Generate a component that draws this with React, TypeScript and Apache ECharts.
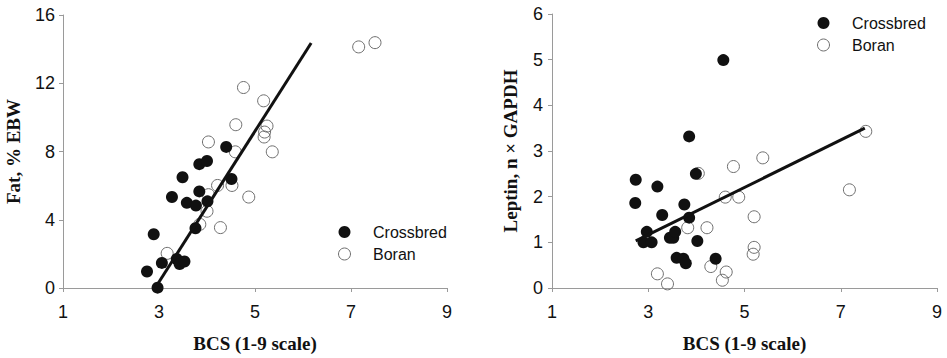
import React, { useEffect, useRef } from "react";
import * as echarts from "echarts";

// BCS vs Fat (% EBW)
const fatCrossX = [2.75, 2.89, 2.97, 3.06, 3.27, 3.37, 3.43, 3.53, 3.49, 3.58, 3.77, 3.76, 3.84, 3.84, 4.0, 4.01, 4.4, 4.51];
const fatCrossY = [0.97, 3.15, 0.02, 1.47, 5.33, 1.7, 1.41, 1.55, 6.49, 4.99, 4.83, 3.5, 5.66, 7.26, 7.44, 5.08, 8.27, 6.39];
const fatBoranX = [3.17, 3.85, 4.0, 4.03, 4.03, 4.22, 4.28, 4.52, 4.59, 4.6, 4.76, 4.87, 5.18, 5.2, 5.19, 5.25, 5.36, 7.16, 7.5];
const fatBoranY = [2.03, 3.73, 4.5, 5.47, 8.56, 6.01, 3.54, 6.01, 7.98, 9.57, 11.75, 5.33, 10.97, 9.14, 8.85, 9.49, 7.98, 14.13, 14.38];
const fatLineX = [2.92, 6.17];
const fatLineY = [0, 14.36];

// BCS vs Leptin
const lepCrossX = [2.74, 2.73, 2.97, 2.9, 3.07, 3.19, 3.29, 3.45, 3.52, 3.56, 3.59, 3.73, 3.78, 3.75, 3.85, 3.85, 3.99, 4.02, 4.4, 4.56];
const lepCrossY = [2.37, 1.86, 1.23, 1.0, 1.0, 2.22, 1.6, 1.1, 1.1, 1.23, 0.66, 0.64, 0.54, 1.83, 1.54, 3.32, 2.5, 1.03, 0.64, 4.99];
const lepBoranX = [3.19, 3.4, 3.82, 4.04, 4.22, 4.3, 4.54, 4.62, 4.6, 4.77, 4.88, 5.2, 5.2, 5.18, 5.38, 7.18, 7.52];
const lepBoranY = [0.31, 0.09, 1.32, 2.51, 1.32, 0.47, 0.17, 0.35, 1.99, 2.66, 1.99, 1.56, 0.89, 0.74, 2.85, 2.15, 3.43];
const lepLineX = [2.74, 7.5];
const lepLineY = [1.03, 3.5];

const xTicks = [1, 3, 5, 7, 9];
const legendNames = ["Crossbred", "Boran"];

const zip = (xs: number[], ys: number[]) => xs.map((x, i) => [x, ys[i]]);

const SANS = "'Liberation Sans', Arial, sans-serif";
const SERIF = "'Liberation Serif', 'Times New Roman', serif";

export default function App() {
  const ref = useRef<HTMLDivElement>(null);
  useEffect(() => {
    if (!ref.current) return;
    const chart = echarts.init(ref.current, undefined, { renderer: "svg" });
    const axisLine = { show: true, lineStyle: { color: "#9a9a9a", width: 1 } };
    const axisTick = { show: true, length: 4, inside: false, lineStyle: { color: "#9a9a9a" } };
    const label = { color: "#111", fontSize: 18, fontFamily: SANS };
    const nameStyle = { color: "#111", fontSize: 19, fontWeight: "bold" as const, fontFamily: SERIF };
    const xAxisBase = (gridIndex: number) => ({
      type: "value" as const,
      gridIndex,
      min: xTicks[0],
      max: xTicks[xTicks.length - 1],
      interval: 2,
      splitLine: { show: false },
      axisLine,
      axisTick,
      axisLabel: { ...label, margin: 15 },
      name: "BCS (1-9 scale)",
      nameLocation: "middle" as const,
      nameGap: 46,
      nameTextStyle: nameStyle,
    });
    const crossStyle = { color: "#111", borderColor: "#111", borderWidth: 0, opacity: 1 };
    const boranStyle = { color: "rgba(255,255,255,0)", borderColor: "#6e6e6e", borderWidth: 1, opacity: 1 };
    const legendData = legendNames.map((n) => ({ name: n, itemStyle: { borderWidth: n === "Boran" ? 1 : 0 } }));
    const legendBase = {
      data: legendData, orient: "vertical" as const,
      itemWidth: 47, itemHeight: 12, itemGap: 6, symbolKeepAspect: true,
      textStyle: { color: "#111", fontSize: 16, fontFamily: SANS },
      selectedMode: false,
    };
    chart.setOption({
      animation: false,
      grid: [
        { left: 63, right: 500, top: 15, bottom: 67 },
        { left: 552, right: 10, top: 14, bottom: 67 },
      ],
      xAxis: [xAxisBase(0), xAxisBase(1)],
      yAxis: [
        {
          type: "value", gridIndex: 0, min: 0, max: 16, interval: 4,
          splitLine: { show: false }, axisLine, axisTick,
          axisLabel: { ...label, margin: 8 },
          name: "Fat, % EBW", nameLocation: "middle", nameGap: 40, nameRotate: 90,
          nameTextStyle: nameStyle,
        },
        {
          type: "value", gridIndex: 1, min: 0, max: 6, interval: 1,
          splitLine: { show: false }, axisLine, axisTick,
          axisLabel: { ...label, margin: 9 },
          name: "Leptin, n × GAPDH", nameLocation: "middle", nameGap: 32, nameRotate: 90,
          nameTextStyle: nameStyle,
        },
      ],
      legend: [
        { ...legendBase, left: 333, top: 219 },
        { ...legendBase, left: 812, top: 10 },
      ],
      series: [
        { name: "Boran", type: "scatter", xAxisIndex: 0, yAxisIndex: 0, symbol: "circle", symbolSize: 12, itemStyle: boranStyle, data: zip(fatBoranX, fatBoranY), z: 2 },
        { name: "Crossbred", type: "scatter", xAxisIndex: 0, yAxisIndex: 0, symbol: "circle", symbolSize: 12, itemStyle: crossStyle, data: zip(fatCrossX, fatCrossY), z: 3 },
        { name: "fatFit", type: "line", xAxisIndex: 0, yAxisIndex: 0, showSymbol: false, symbol: "none", lineStyle: { color: "#111", width: 3 }, data: zip(fatLineX, fatLineY), z: 4, silent: true },
        { name: "Boran", type: "scatter", xAxisIndex: 1, yAxisIndex: 1, symbol: "circle", symbolSize: 12, itemStyle: boranStyle, data: zip(lepBoranX, lepBoranY), z: 2 },
        { name: "Crossbred", type: "scatter", xAxisIndex: 1, yAxisIndex: 1, symbol: "circle", symbolSize: 12, itemStyle: crossStyle, data: zip(lepCrossX, lepCrossY), z: 3 },
        { name: "lepFit", type: "line", xAxisIndex: 1, yAxisIndex: 1, showSymbol: false, symbol: "none", lineStyle: { color: "#111", width: 3 }, data: zip(lepLineX, lepLineY), z: 4, silent: true },
      ],
    });
    return () => chart.dispose();
  }, []);
  return <div ref={ref} style={{ width: 947, height: 358, position: "absolute", left: 0, top: 0 }} />;
}
